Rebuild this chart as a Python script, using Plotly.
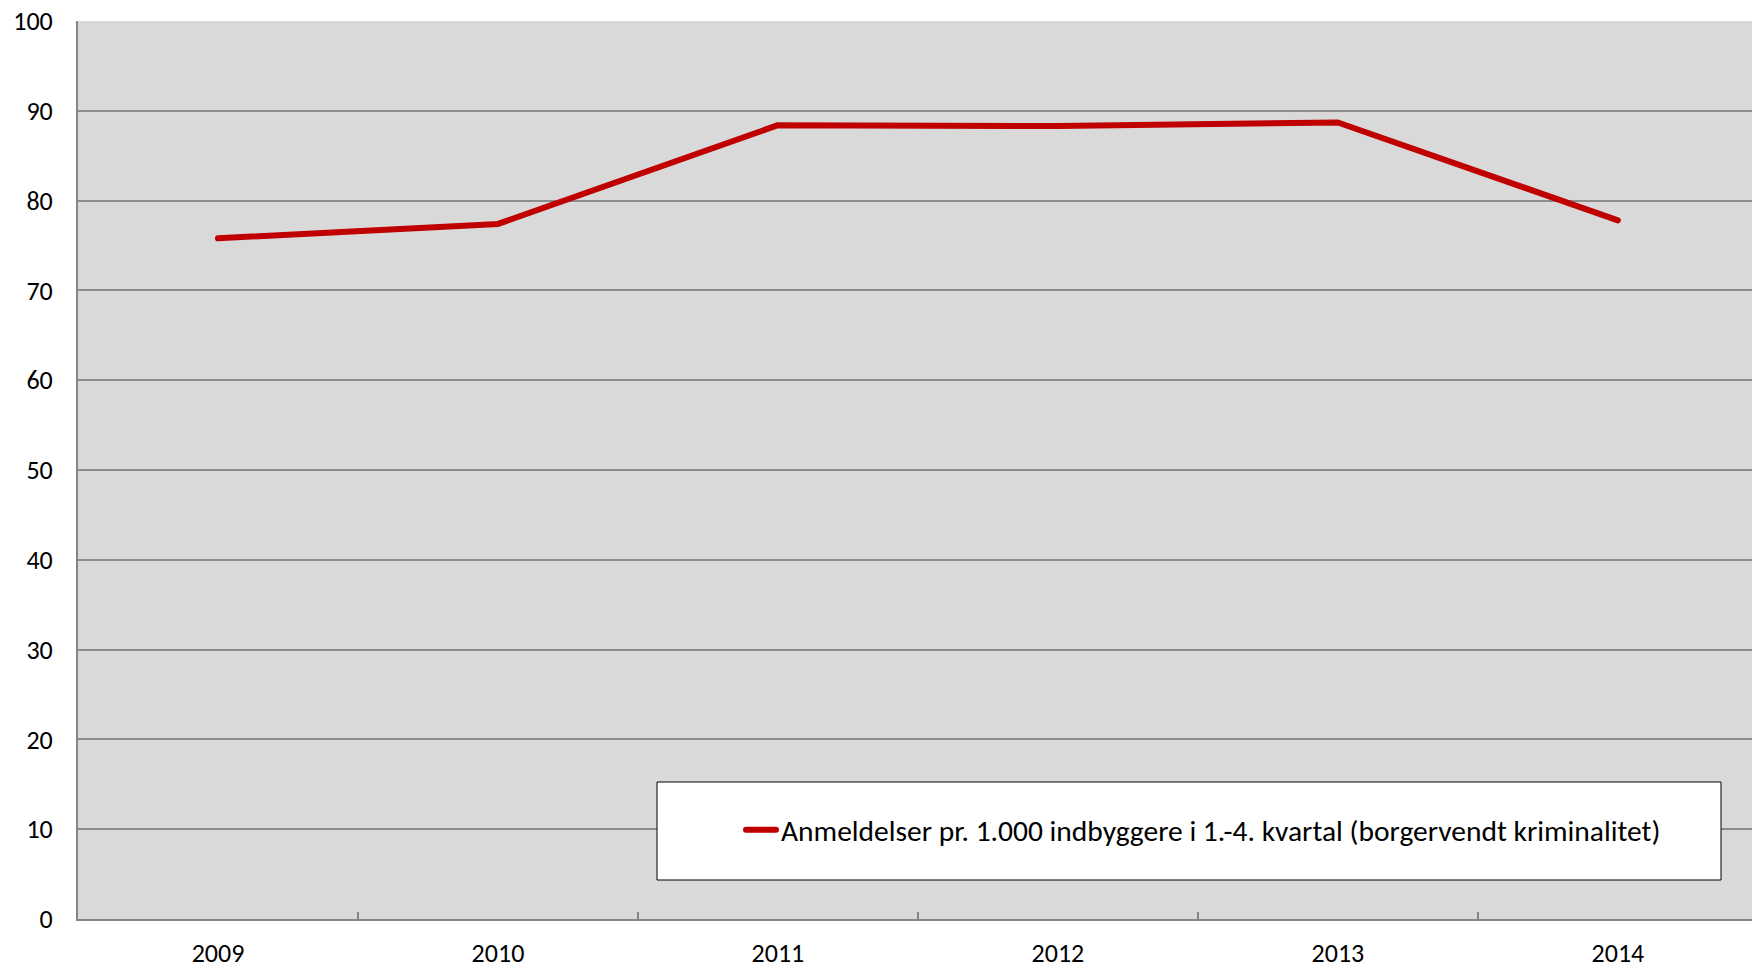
import plotly.graph_objects as go

years = ["2009", "2010", "2011", "2012", "2013", "2014"]
values = [75.8, 77.4, 88.4, 88.3, 88.7, 77.8]
y_ticks = [0, 10, 20, 30, 40, 50, 60, 70, 80, 90, 100]
series_name = "Anmeldelser pr. 1.000 indbyggere i 1.-4. kvartal (borgervendt kriminalitet)"

FONT = "Calibri, Carlito, Lato, sans-serif"

fig = go.Figure()
fig.add_trace(go.Scatter(
    x=years, y=values, mode="lines", name=series_name,
    line=dict(color="#c00000", width=6),
))

W, H = 1752, 968
L, T, B = 78, 21, 49
PW, PH = W - L, H - B - T


def px_x(x):
    return (x - L) / PW


def px_y(y):
    return 1 - (y - T) / PH


fig.update_layout(
    width=W, height=H,
    margin=dict(l=L, r=0, t=T, b=B, autoexpand=False),
    paper_bgcolor="white",
    plot_bgcolor="#d9d9d9",
    font=dict(family=FONT, size=26, color="black"),
    showlegend=True,
    legend=dict(
        x=px_x(741), y=px_y(830),
        xanchor="left", yanchor="middle",
        bgcolor="rgba(0,0,0,0)", borderwidth=0,
        font=dict(family=FONT, size=29.5, color="black"),
    ),
    shapes=[dict(
        type="rect", xref="paper", yref="paper",
        x0=px_x(657), x1=px_x(1721),
        y0=px_y(880), y1=px_y(782),
        fillcolor="white", line=dict(color="black", width=1), layer="above",
    )],
)
fig.update_xaxes(
    type="category", range=[-0.5, 5.479],
    showgrid=False, showline=True, linecolor="#868686", linewidth=2,
    tickson="boundaries", ticks="inside", ticklen=7, tickcolor="#868686", tickwidth=1.5,
    ticklabelstandoff=10, tickfont=dict(size=26), ticklabeloverflow="allow",
)
fig.update_yaxes(
    range=[0, 100], tickvals=y_ticks,
    showgrid=True, gridcolor="#8c8c8c", gridwidth=1.5,
    showline=True, linecolor="#868686", linewidth=2,
    zeroline=False, ticks="", ticklabelstandoff=18, tickfont=dict(size=26),
    ticklabeloverflow="allow",
)
fig.write_html(
    "out.html",
    config={"displayModeBar": False},
    post_script=(
        "document.body.style.margin='0';document.body.style.overflow='hidden';"
        "document.querySelectorAll('.scatterlayer .js-line, .legendlines path')"
        ".forEach(function(p){p.style.strokeLinecap='round';p.style.strokeLinejoin='round';});"
    ),
)
